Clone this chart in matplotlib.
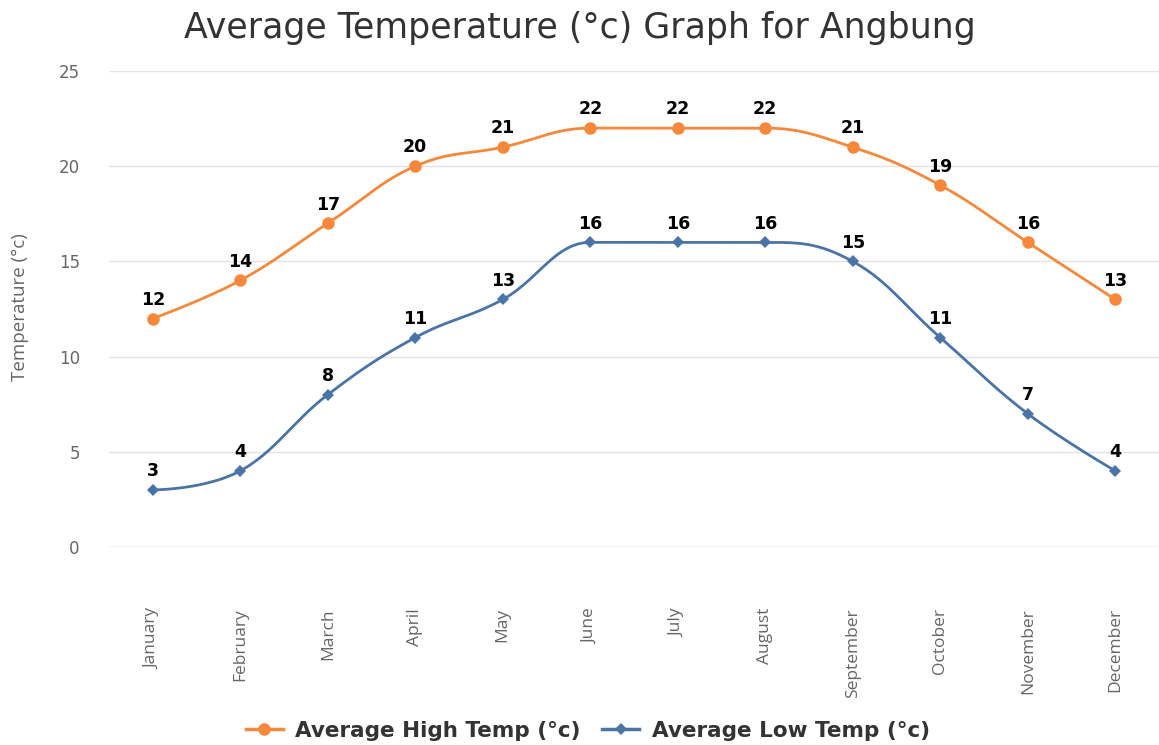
import numpy as np
import matplotlib
matplotlib.use("Agg")
import matplotlib.pyplot as plt
from matplotlib.lines import Line2D

plt.rcParams["font.family"] = ["DejaVu Sans"]

months = ["January", "February", "March", "April", "May", "June", "July",
          "August", "September", "October", "November", "December"]
high_temp = [12, 14, 17, 20, 21, 22, 22, 22, 21, 19, 16, 13]
low_temp = [3, 4, 8, 11, 13, 16, 16, 16, 15, 11, 7, 4]
y_ticks = [0, 5, 10, 15, 20, 25]

HIGH_COLOR = "#f5883a"
LOW_COLOR = "#4a73a6"


def spline_path(xs, ys, n=30, smoothing=1.5):
    """Highcharts-like spline through points (in data coords)."""
    xs = np.asarray(xs, float)
    ys = np.asarray(ys, float)
    m = len(xs)
    denom = smoothing + 1
    lc = [(xs[i], ys[i]) for i in range(m)]
    rc = [(xs[i], ys[i]) for i in range(m)]
    for i in range(1, m - 1):
        px, py = xs[i], ys[i]
        lx, ly = xs[i - 1], ys[i - 1]
        nx, ny = xs[i + 1], ys[i + 1]
        lcx = (smoothing * px + lx) / denom
        lcy = (smoothing * py + ly) / denom
        rcx = (smoothing * px + nx) / denom
        rcy = (smoothing * py + ny) / denom
        corr = ((rcy - lcy) * (rcx - px)) / (rcx - lcx) + py - rcy
        lcy += corr
        rcy += corr
        if lcy > ly and lcy > py:
            lcy = max(ly, py)
            rcy = 2 * py - lcy
        elif lcy < ly and lcy < py:
            lcy = min(ly, py)
            rcy = 2 * py - lcy
        if rcy > ny and rcy > py:
            rcy = max(ny, py)
            lcy = 2 * py - rcy
        elif rcy < ny and rcy < py:
            rcy = min(ny, py)
            lcy = 2 * py - rcy
        lc[i] = (lcx, lcy)
        rc[i] = (rcx, rcy)
    t = np.linspace(0, 1, n)
    outx, outy = [], []
    for i in range(1, m):
        p0 = np.array([xs[i - 1], ys[i - 1]])
        p1 = np.array(rc[i - 1])
        p2 = np.array(lc[i])
        p3 = np.array([xs[i], ys[i]])
        b = ((1 - t) ** 3)[:, None] * p0 + (3 * (1 - t) ** 2 * t)[:, None] * p1 \
            + (3 * (1 - t) * t ** 2)[:, None] * p2 + (t ** 3)[:, None] * p3
        outx.extend(b[:, 0])
        outy.extend(b[:, 1])
    return np.array(outx), np.array(outy)


fig = plt.figure(figsize=(11.59, 7.45), dpi=100)
ax = fig.add_axes([109 / 1159, (745 - 547) / 745, 1050 / 1159, 476 / 745])

x = np.arange(len(months))

for vals, col, mk, ms in [(high_temp, HIGH_COLOR, "o", 9),
                          (low_temp, LOW_COLOR, "D", 6.5)]:
    sx, sy = spline_path(x, vals)
    ax.plot(sx, sy, color=col, lw=2.0, zorder=3, solid_capstyle="round")
    ax.plot(x, vals, linestyle="none", marker=mk, markersize=ms, color=col,
            markeredgewidth=0, zorder=4)
    for xi, v in zip(x, vals):
        ax.annotate(str(v), (xi, v), xytext=(0, 7), textcoords="offset points",
                    ha="center", va="bottom", fontsize=12.5, fontweight="bold",
                    color="black", zorder=5, family="DejaVu Sans")

ax.set_xlim(-0.5, len(months) - 0.5)
ax.set_ylim(0, 25)
ax.set_yticks(y_ticks)
ax.set_xticks(x)
ax.set_xticklabels(months, rotation=90, fontsize=12.5, color="#666666",
                   family="Open Sans")
ax.tick_params(axis="x", length=0, pad=44)
ax.tick_params(axis="y", length=0, pad=21, labelsize=12, labelcolor="#666666")
for lab in ax.get_xticklabels():
    lab.set_va("top")
for lab in ax.get_yticklabels():
    lab.set_family("DejaVu Sans")
ax.grid(axis="y", color="#e3e3e3", lw=1)
ax.set_axisbelow(True)
for s in ax.spines.values():
    s.set_visible(False)
ax.axhline(0, color="#d6d6d6", lw=1, zorder=2)

fig.text(20 / 1159, 1 - 307 / 745, "Temperature (°c)", rotation=90,
         ha="center", va="center", fontsize=13.5, color="#666666",
         family="Open Sans")

fig.text(580 / 1159, 1 - 28 / 745, "Average Temperature (°c) Graph for Angbung",
         ha="center", va="center", fontsize=25, color="#333333",
         family="DejaVu Sans")

handles = [
    Line2D([], [], color=HIGH_COLOR, lw=2.5, marker="o", markersize=9,
           markeredgewidth=0),
    Line2D([], [], color=LOW_COLOR, lw=2.5, marker="D", markersize=6.5,
           markeredgewidth=0),
]
fig.legend(handles, ["Average High Temp (°c)", "Average Low Temp (°c)"],
           loc="center", bbox_to_anchor=(588 / 1159, 1 - 731 / 745),
           ncol=2, frameon=False, handlelength=1.7, columnspacing=1.0,
           handletextpad=0.6,
           prop={"weight": "bold", "size": 15.5, "family": "DejaVu Sans"})
for t in fig.legends[0].get_texts():
    t.set_color("#333333")

fig.savefig("out.png", dpi=100)
